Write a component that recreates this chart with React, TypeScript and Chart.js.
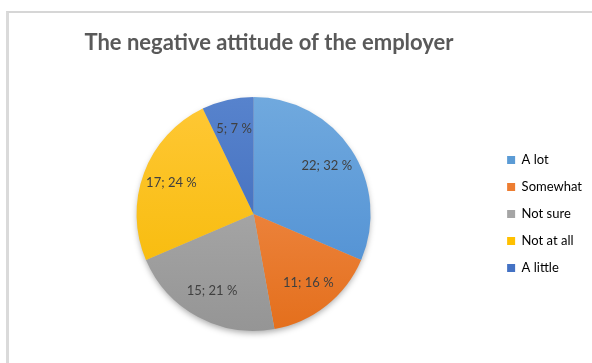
import React, { useEffect, useRef } from "react";
import { Chart, registerables } from "chart.js";

Chart.register(...registerables);

const TITLE = "The negative attitude of the employer";
const categories = ["A lot", "Somewhat", "Not sure", "Not at all", "A little"];
const counts = [22, 11, 15, 17, 5];
const percents = [32, 16, 21, 24, 7];
const baseColors = ["#5B9BD5", "#ED7D31", "#A5A5A5", "#FFC000", "#4472C4"];
const topColors = ["#70A9DE", "#F39458", "#B3B3B3", "#FFC836", "#5783CD"];
const bottomColors = ["#4A8BD1", "#E46F1C", "#959595", "#F5B800", "#3A65B6"];

const titlePlugin = {
  id: "customTitle",
  afterDraw(chart: any) {
    const ctx = chart.ctx;
    ctx.save();
    ctx.font = "bold 22px Lato";
    ctx.fillStyle = "#595959";
    ctx.textAlign = "center";
    ctx.textBaseline = "alphabetic";
    ctx.fillText(TITLE, 269, 50);
    ctx.restore();
  },
};

const shadowPlugin = {
  id: "pieShadow",
  beforeDatasetsDraw(chart: any) {
    const arc = chart.getDatasetMeta(0).data[0];
    if (!arc) return;
    const ctx = chart.ctx;
    ctx.save();
    ctx.shadowColor = "rgba(0,0,0,0.35)";
    ctx.shadowBlur = 6;
    ctx.shadowOffsetY = 3;
    ctx.fillStyle = "#bbbbbb";
    ctx.beginPath();
    ctx.arc(arc.x, arc.y, arc.outerRadius - 1, 0, Math.PI * 2);
    ctx.fill();
    ctx.restore();
  },
};

const labelPlugin = {
  id: "sliceLabels",
  afterDatasetsDraw(chart: any) {
    const ctx = chart.ctx;
    const meta = chart.getDatasetMeta(0);
    ctx.save();
    ctx.font = "13px Lato";
    ctx.fillStyle = "#404040";
    ctx.textAlign = "center";
    ctx.textBaseline = "middle";
    meta.data.forEach((arc: any, i: number) => {
      const mid = (arc.startAngle + arc.endAngle) / 2;
      const r = arc.outerRadius * 0.75;
      const x = arc.x + Math.cos(mid) * r;
      const y = arc.y + Math.sin(mid) * r;
      ctx.fillText(`${counts[i]}; ${percents[i]} %`, x, y);
    });
    ctx.restore();
  },
};

export default function App() {
  const canvasRef = useRef<HTMLCanvasElement | null>(null);

  useEffect(() => {
    const canvas = canvasRef.current;
    if (!canvas) return;
    const chart = new Chart(canvas, {
      type: "pie",
      data: {
        labels: categories,
        datasets: [
          {
            data: counts,
            borderWidth: 0,
            backgroundColor: (c: any) => {
              const i = c.dataIndex;
              const area = c.chart.chartArea;
              if (!area) return baseColors[i];
              const g = c.chart.ctx.createLinearGradient(0, area.top, 0, area.bottom);
              g.addColorStop(0, topColors[i]);
              g.addColorStop(1, bottomColors[i]);
              return g;
            },
          },
        ],
      },
      options: {
        responsive: false,
        animation: false,
        layout: { padding: { top: 97, bottom: 32, left: 14, right: 0 } },
        plugins: {
          title: { display: false },
          tooltip: { enabled: false },
          legend: {
            position: "right",
            labels: {
              boxWidth: 8,
              boxHeight: 8,
              padding: 14,
              color: "#595959",
              font: { family: "Lato", size: 13 },
              generateLabels: (ch: any) =>
                categories.map((name, i) => ({
                  text: name,
                  fillStyle: baseColors[i],
                  strokeStyle: baseColors[i],
                  lineWidth: 0,
                  hidden: false,
                  index: i,
                })),
            },
          },
        },
      },
      plugins: [titlePlugin, shadowPlugin, labelPlugin],
    });
    return () => chart.destroy();
  }, []);

  return (
    <div
      style={{
        position: "fixed",
        left: 0,
        top: 0,
        width: 592,
        height: 363,
        overflow: "hidden",
        background: "#ffffff",
      }}
    >
      <div
        style={{
          position: "absolute",
          left: 6,
          top: 11,
          width: 700,
          height: 500,
          borderLeft: "3px solid #dadada",
          borderTop: "2px solid #d6d6d6",
        }}
      />
      <canvas
        ref={canvasRef}
        width={592}
        height={363}
        style={{ position: "absolute", left: 0, top: 0, width: 592, height: 363 }}
      />
    </div>
  );
}
